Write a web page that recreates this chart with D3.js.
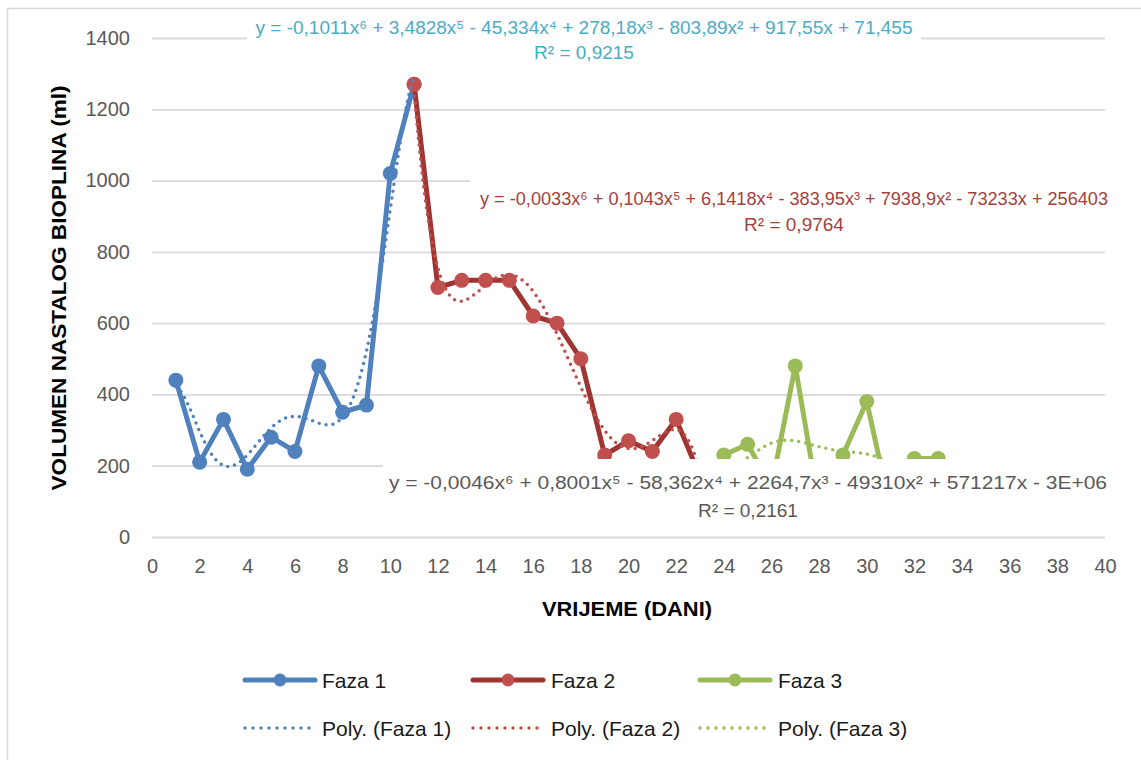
<!DOCTYPE html>
<html><head><meta charset="utf-8">
<script src="https://cdn.jsdelivr.net/npm/d3@7"></script>
<style>body{margin:0;background:#fff}svg{display:block}</style>
</head><body>
<svg id="c" width="1141" height="760"></svg>
<script>
// ---- data ----
const xTicks = [0,2,4,6,8,10,12,14,16,18,20,22,24,26,28,30,32,34,36,38,40];
const yTicks = [0,200,400,600,800,1000,1200,1400];
const days1 = [1,2,3,4,5,6,7,8,9,10,11];
const faza1 = [440,210,330,190,280,240,480,350,370,1020,1270];
const days2 = [11,12,13,14,15,16,17,18,19,20,21,22,23];
const faza2 = [1270,700,720,720,720,620,600,500,230,270,240,330,170];
const days3 = [24,25,26,27,28,29,30,31,32,33];
const faza3 = [230,260,140,480,85,230,380,75,220,220];
const seriesNames = ["Faza 1","Faza 2","Faza 3"];
const eq1 = ["y = -0,1011x⁶ + 3,4828x⁵ - 45,334x⁴ + 278,18x³ - 803,89x² + 917,55x + 71,455","R² = 0,9215"];
const eq2 = ["y = -0,0033x⁶ + 0,1043x⁵ + 6,1418x⁴ - 383,95x³ + 7938,9x² - 73233x + 256403","R² = 0,9764"];
const eq3 = ["y = -0,0046x⁶ + 0,8001x⁵ - 58,362x⁴ + 2264,7x³ - 49310x² + 571217x - 3E+06","R² = 0,2161"];
const xTitle = "VRIJEME (DANI)";
const yTitle = "VOLUMEN NASTALOG BIOPLINA (ml)";

// ---- styles ----
const lineCol = ["#4F81BD","#9E3532","#9BBB59"];
const markCol = ["#4F81BD","#C0504D","#9BBB59"];
const trendCol = ["#4F81BD","#C0504D","#9BBB59"];
const FONT = "'Liberation Sans', Arial, sans-serif";

const svg = d3.select("#c");
svg.append("rect").attr("x",7.5).attr("y",8.5).attr("width",1140).attr("height",760)
  .attr("fill","#fff").attr("stroke","#D9D9D9").attr("stroke-width",1.5);

const x = d3.scaleLinear().domain([0,40]).range([152,1105]);
const y = d3.scaleLinear().domain([0,1400]).range([537,38]);

// gridlines + y labels
const ya = svg.append("g").attr("transform","translate(152,0)")
  .call(d3.axisLeft(y).tickValues(yTicks).tickSize(-(1105-152)).tickPadding(22).tickFormat(d3.format("d")));
ya.select(".domain").remove();
ya.selectAll(".tick line").attr("stroke","#D9D9D9").attr("stroke-width",1.8);
ya.selectAll(".tick text").attr("fill","#595959").style("font-family",FONT).style("font-size","20px");

const xa = svg.append("g").attr("transform","translate(0,537)")
  .call(d3.axisBottom(x).tickValues(xTicks).tickSize(0).tickPadding(22).tickFormat(d3.format("d")));
xa.select(".domain").remove();
xa.selectAll(".tick text").attr("fill","#595959").style("font-family",FONT).style("font-size","20px");

// axis titles
svg.append("text").attr("x",627).attr("y",616).attr("text-anchor","middle")
  .attr("font-family",FONT).attr("font-weight","bold").attr("font-size",20)
  .attr("textLength",170).attr("lengthAdjust","spacingAndGlyphs").attr("fill","#000").text(xTitle);
svg.append("text").attr("transform","translate(66,288) rotate(-90)").attr("text-anchor","middle")
  .attr("font-family",FONT).attr("font-weight","bold").attr("font-size",20)
  .attr("textLength",405).attr("lengthAdjust","spacingAndGlyphs").attr("fill","#000").text(yTitle);

// polynomial (order 6) least-squares trendline, as Excel computes it
function polyfit(xs, ys, deg){
  const m = d3.mean(xs), s = d3.deviation(xs) || 1;
  const t = xs.map(v => (v-m)/s);
  const n = deg+1;
  const A = Array.from({length:n},()=>new Array(n+1).fill(0));
  for(let i=0;i<n;i++){
    for(let j=0;j<n;j++) A[i][j] = d3.sum(t, v => Math.pow(v,i+j));
    A[i][n] = d3.sum(t, (v,k) => Math.pow(v,i)*ys[k]);
  }
  for(let c=0;c<n;c++){
    let p=c; for(let r=c+1;r<n;r++) if(Math.abs(A[r][c])>Math.abs(A[p][c])) p=r;
    [A[c],A[p]]=[A[p],A[c]];
    for(let r=0;r<n;r++){ if(r===c) continue; const f=A[r][c]/A[c][c]; for(let k=c;k<=n;k++) A[r][k]-=f*A[c][k]; }
  }
  const coef = A.map((row,i)=>row[n]/row[i]);
  return v => { const tt=(v-m)/s; let r=0; for(let i=n-1;i>=0;i--) r=r*tt+coef[i]; return r; };
}

const allSeries = [[days1,faza1],[days2,faza2],[days3,faza3]];
const line = d3.line().x(d=>x(d[0])).y(d=>y(d[1]));
allSeries.forEach(([xs,ys],i)=>{
  const pts = xs.map((v,k)=>[v,ys[k]]);
  const g = svg.append("g");
  g.append("path").attr("d",line(pts)).attr("fill","none").attr("stroke",lineCol[i])
    .attr("stroke-width",5).attr("stroke-linejoin","round").attr("stroke-linecap","round");
  g.selectAll("circle").data(pts).join("circle").attr("cx",d=>x(d[0])).attr("cy",d=>y(d[1]))
    .attr("r",7.5).attr("fill",markCol[i]);
});
allSeries.forEach(([xs,ys],i)=>{
  const f = polyfit(xs,ys,6);
  const x0=d3.min(xs), x1=d3.max(xs);
  const tp = d3.range(0,201).map(k=>{const v=x0+(x1-x0)*k/200; return [v,f(v)];});
  svg.append("path").attr("d",line(tp)).attr("fill","none").attr("stroke",trendCol[i])
    .attr("stroke-width",3.5).attr("stroke-linecap","round").attr("stroke-dasharray","0 7");
});

// equation labels (white boxes over the plot, as in the original)
function eqLabel(lines, bx, by, bw, bh, cx, b1, b2, col, w1){
  svg.append("rect").attr("x",bx).attr("y",by).attr("width",bw).attr("height",bh).attr("fill","#fff");
  svg.append("text").attr("x",cx).attr("y",b1).attr("text-anchor","middle").attr("font-family",FONT)
    .attr("font-size",19).attr("fill",col).attr("textLength",w1).attr("lengthAdjust","spacingAndGlyphs").text(lines[0]);
  svg.append("text").attr("x",cx).attr("y",b2).attr("text-anchor","middle").attr("font-family",FONT)
    .attr("font-size",19).attr("fill",col).text(lines[1]);
}
eqLabel(eq1, 247, 12, 674, 55, 584, 34, 59, "#4BACC6", 657);
eqLabel(eq2, 470, 176, 640, 62, 794, 205, 231, "#A33F3D", 628);
eqLabel(eq3, 383, 459, 727, 67, 748, 489, 517, "#595959", 718);

// legend
const legRow = [[245,315,322],[473,543,551],[700,770,778]];
legRow.forEach((p,i)=>{
  svg.append("line").attr("x1",p[0]).attr("x2",p[1]).attr("y1",680).attr("y2",680)
    .attr("stroke",lineCol[i]).attr("stroke-width",5).attr("stroke-linecap","round");
  svg.append("circle").attr("cx",(p[0]+p[1])/2).attr("cy",680).attr("r",6.5).attr("fill",markCol[i]);
  svg.append("text").attr("x",p[2]).attr("y",687.5).attr("font-family",FONT).attr("font-size",21)
    .attr("fill","#1a1a1a").text(seriesNames[i]);
  svg.append("line").attr("x1",p[0]).attr("x2",p[1]-3).attr("y1",728).attr("y2",728)
    .attr("stroke",trendCol[i]).attr("stroke-width",3.5).attr("stroke-linecap","round").attr("stroke-dasharray","0 8");
  svg.append("text").attr("x",p[2]).attr("y",735.5).attr("font-family",FONT).attr("font-size",21)
    .attr("fill","#1a1a1a").text("Poly. ("+seriesNames[i]+")");
});
</script>
</body></html>
